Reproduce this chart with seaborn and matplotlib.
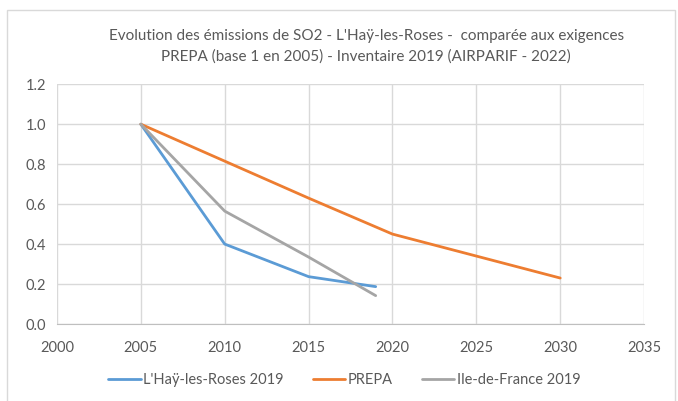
import pandas as pd
import seaborn as sns
import matplotlib.pyplot as plt
from matplotlib.patches import Rectangle

# values (base 1 in 2005)
years_lhay = [2005, 2010, 2015, 2019]
lhay = [1.0, 0.40, 0.237, 0.187]

years_prepa = [2005, 2010, 2015, 2020, 2025, 2030]
prepa = [1.0, 0.815, 0.63, 0.45, 0.34, 0.23]

years_idf = [2005, 2010, 2015, 2019]
idf = [1.0, 0.565, 0.335, 0.142]

series_names = ["L'Haÿ-les-Roses 2019", "PREPA", "Ile-de-France 2019"]
colors = ['#5B9BD5', '#ED7D31', '#A5A5A5']

df = pd.concat([
    pd.DataFrame({'Année': years_lhay, 'Valeur': lhay, 'Série': series_names[0]}),
    pd.DataFrame({'Année': years_prepa, 'Valeur': prepa, 'Série': series_names[1]}),
    pd.DataFrame({'Année': years_idf, 'Valeur': idf, 'Série': series_names[2]}),
])

sns.set_style('white')
plt.rcParams['font.family'] = ['Lato', 'DejaVu Sans']
txt = '#595959'

fig = plt.figure(figsize=(6.78, 4.01), dpi=100)
ax = fig.add_axes([0.084, 0.192, 0.866, 0.598])

sns.lineplot(data=df, x='Année', y='Valeur', hue='Série', hue_order=series_names,
             palette=colors, linewidth=2, ax=ax, sort=False)

ax.set_xlim(2000, 2035)
ax.set_ylim(0, 1.2)
ax.set_xticks(range(2000, 2036, 5))
ax.set_yticks([0, 0.2, 0.4, 0.6, 0.8, 1.0, 1.2])
ax.set_yticklabels(['0.0', '0.2', '0.4', '0.6', '0.8', '1.0', '1.2'])
ax.grid(True, color='#D9D9D9', linewidth=1)
ax.set_axisbelow(True)
for s in ['top', 'right', 'left']:
    ax.spines[s].set_visible(False)
ax.spines['bottom'].set_color('#BFBFBF')
ax.tick_params(colors=txt, labelsize=10.5, length=0)
ax.tick_params(axis='x', pad=12)
ax.tick_params(axis='y', pad=8)
ax.set_xlabel('')
ax.set_ylabel('')

ax.legend(loc='upper center', bbox_to_anchor=(0.49, -0.15), ncol=3, frameon=False,
          fontsize=10.5, labelcolor=txt, handlelength=2.2, handletextpad=0.2,
          columnspacing=2.0)

fig.text(0.54, 0.928, "Evolution des émissions de SO2 - L'Haÿ-les-Roses -  comparée aux exigences\n"
         "PREPA (base 1 en 2005) - Inventaire 2019 (AIRPARIF - 2022)",
         ha='center', va='top', fontsize=11, color=txt, linespacing=1.55)

fig.patches.append(Rectangle((0.011, -0.01), 0.985, 0.985, transform=fig.transFigure,
                             fill=False, edgecolor='#D9D9D9', linewidth=1))

fig.savefig('out.png', dpi=100)
